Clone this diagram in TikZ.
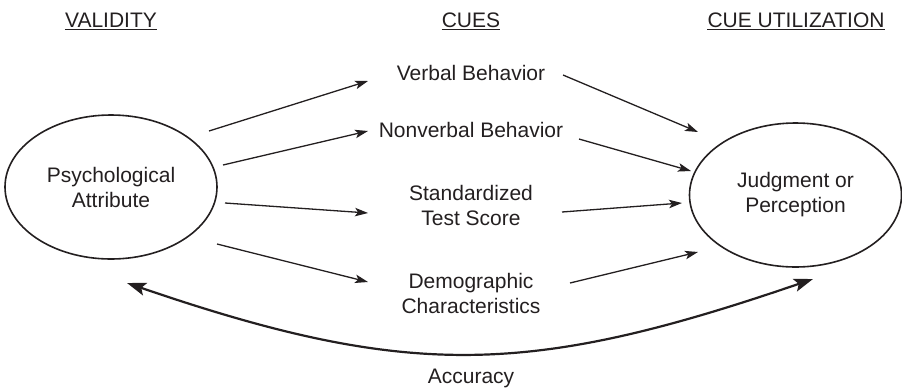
\documentclass[tikz,border=0pt]{standalone}
\usepackage{fontspec}
\setmainfont{Liberation Sans}
\usetikzlibrary{shapes.geometric,arrows.meta}
\definecolor{ink}{HTML}{231F20}
\begin{document}
\begin{tikzpicture}[x=1pt,y=-1pt,
  every node/.style={font=\fontsize{21}{25}\selectfont, text=ink},
  heading/.style={anchor=base, inner sep=0pt},
  underline/.style={draw=ink, line width=1.5pt},
  oval/.style={ellipse, draw=ink, line width=1.6pt, inner sep=0pt,
    minimum width=212pt, minimum height=144pt, align=center},
  cuelabel/.style={align=center, inner sep=0pt},
  link/.style={draw=ink, line width=1.3pt,
    -{Stealth[length=13pt, width=8.5pt, inset=3pt]}},
  accuracy/.style={draw=ink, line width=2.2pt,
    {Stealth[length=19pt, width=13pt, inset=4pt]}-{Stealth[length=19pt, width=13pt, inset=4pt]}}
]
\useasboundingbox (0,0) rectangle (902,389);

% column headings
\node[heading] (hval) at (111,27) {VALIDITY};
\node[heading] (hcue) at (471,27) {CUES};
\node[heading] (huse) at (796,27) {CUE UTILIZATION};
\foreach \h in {hval,hcue,huse}
  \draw[underline] ([yshift=-2.5pt]\h.base west) -- ([yshift=-2.5pt]\h.base east);

% attribute and judgment
\node[oval] (psy) at (111,187) {Psychological\\Attribute};
\node[oval] (judg) at (795.5,195) {Judgment or\\Perception};

% cues
\node[cuelabel, anchor=base] (verbal) at (471,80) {Verbal Behavior};
\node[cuelabel, anchor=base] (nonverbal) at (471,137) {Nonverbal Behavior};
\node[cuelabel] (test) at (471,205) {Standardized\\Test Score};
\node[cuelabel] (demo) at (471,293) {Demographic\\Characteristics};
\node[cuelabel, anchor=base] (acc) at (471,383) {Accuracy};

% arrow ends
\coordinate (psyA) at (209,131);  \coordinate (verbalIn) at (368,81);
\coordinate (psyB) at (223,165);  \coordinate (nonverbalIn) at (368,131);
\coordinate (psyC) at (225,203);  \coordinate (testIn) at (368,213);
\coordinate (psyD) at (217,244);  \coordinate (demoIn) at (368,282);
\coordinate (verbalOut) at (563,75);    \coordinate (judgA) at (698,132);
\coordinate (nonverbalOut) at (579,139); \coordinate (judgB) at (691,171);
\coordinate (testOut) at (562,212);     \coordinate (judgC) at (682,203);
\coordinate (demoOut) at (570,283);     \coordinate (judgD) at (698,252);
\coordinate (psyAcc) at (127,283);      \coordinate (judgAcc) at (813,279);

% validity links
\draw[link] (psyA) -- (verbalIn);
\draw[link] (psyB) -- (nonverbalIn);
\draw[link] (psyC) -- (testIn);
\draw[link] (psyD) -- (demoIn);

% cue utilization links
\draw[link] (verbalOut) -- (judgA);
\draw[link] (nonverbalOut) -- (judgB);
\draw[link] (testOut) -- (judgC);
\draw[link] (demoOut) -- (judgD);

% accuracy arc
\draw[accuracy] (psyAcc) .. controls (410,380) and (530,376) .. (judgAcc);
\end{tikzpicture}
\end{document}
